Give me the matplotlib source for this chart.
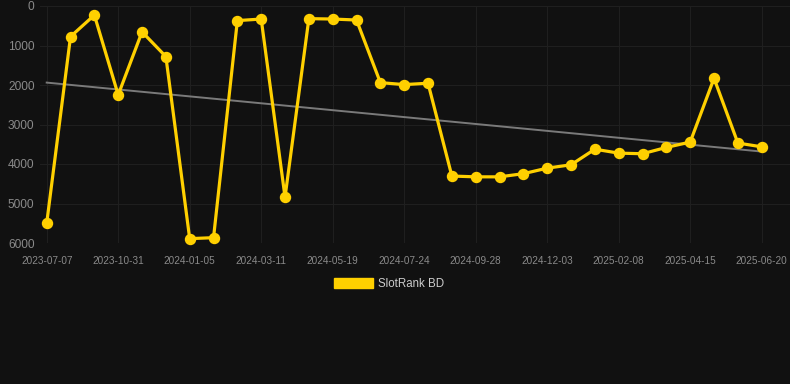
import numpy as np
import matplotlib
matplotlib.use("Agg")
import matplotlib.pyplot as plt
from matplotlib.patches import Patch

plt.rcParams['font.family'] = ['Liberation Sans', 'DejaVu Sans']

# Data (rank values, one per observation)
rank_values = [5500, 775, 230, 2250, 655, 1280, 5890, 5865, 370, 330,
               4840, 320, 330, 355, 1940, 1990, 1955, 4305, 4325, 4325,
               4245, 4105, 4020, 3625, 3725, 3740, 3580, 3445, 1830, 3470,
               3565]
tick_labels = ["2023-07-07", "2023-10-31", "2024-01-05", "2024-03-11",
               "2024-05-19", "2024-07-24", "2024-09-28", "2024-12-03",
               "2025-02-08", "2025-04-15", "2025-06-20"]
series_name = "SlotRank BD"
y_ticks = [0, 1000, 2000, 3000, 4000, 5000, 6000]

BG = "#111111"
GOLD = "#FFD000"

x = np.arange(len(rank_values))
y = np.array(rank_values, dtype=float)

fig = plt.figure(figsize=(7.9, 3.84), dpi=100, facecolor=BG)
ax = fig.add_axes([40/790, 1 - 243/384, 1 - 40/790, (243 - 6)/384])
ax.set_facecolor(BG)

# trend line (linear regression)
coef = np.polyfit(x, y, 1)
ax.plot(x, np.polyval(coef, x), color="#7a7a7a", lw=1.4, zorder=2)

ax.plot(x, y, color=GOLD, lw=2.3, marker="o", markersize=7.2,
        markerfacecolor=GOLD, markeredgecolor=GOLD, zorder=3,
        clip_on=False)

ax.set_ylim(6000, 0)
px = 715 / 30
ax.set_xlim(-6.7 / px, 30 + 28.3 / px)
ax.set_yticks(y_ticks)
ax.set_yticklabels([str(v) for v in y_ticks])
tick_pos = x[::3]
ax.set_xticks(tick_pos)
ax.set_xticklabels(tick_labels)

ax.grid(True, color="#1f1f1f", lw=0.8)
ax.set_axisbelow(True)
for s in ax.spines.values():
    s.set_visible(False)
ax.tick_params(axis="both", length=0)
ax.tick_params(axis="y", labelsize=8.6, labelcolor="#8a8a8a", pad=4)
ax.tick_params(axis="x", labelsize=7.2, labelcolor="#8a8a8a", pad=9)

handle = Patch(facecolor=GOLD, edgecolor=GOLD)
leg = fig.legend([handle], [series_name], loc="center",
                 bbox_to_anchor=(389 / 790, 1 - 284 / 384),
                 frameon=False, fontsize=8.3, handlelength=3.4,
                 handleheight=1.0, handletextpad=0.45)
for t in leg.get_texts():
    t.set_color("#cccccc")

fig.savefig("out.png", dpi=100, facecolor=BG)
